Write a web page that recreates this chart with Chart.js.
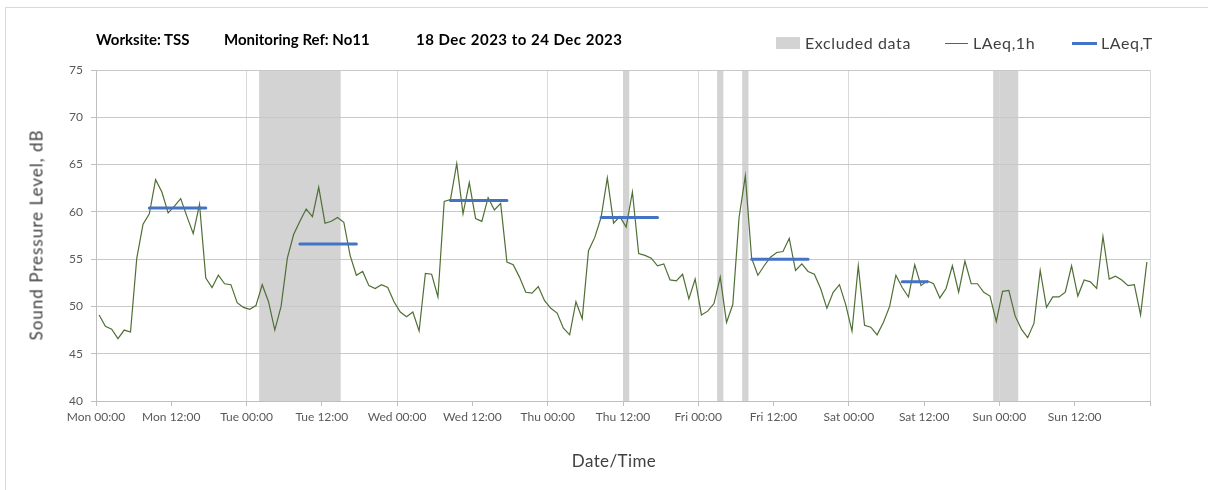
<!DOCTYPE html>
<html>
<head>
<meta charset="utf-8">
<script src="https://cdn.jsdelivr.net/npm/chart.js@4.4.1/dist/chart.umd.min.js"></script>
<style>
    html, body { margin: 0; padding: 0; background: #fff; overflow: hidden; }
    #wrap { position: relative; width: 1208px; height: 490px; }
    #frame { position: absolute; left: 5px; top: 7px; width: 1300px; height: 600px; border: 1px solid #d9d9d9; }
    .title { position: absolute; top: 30px; white-space: nowrap; font: bold 15px Lato, sans-serif; color: #000; }
    #legend { position: absolute; top: 33px; left: 0; font: 16px Lato, sans-serif; letter-spacing: 0.6px; color: #404040; }
    .item { position: absolute; top: 0; white-space: nowrap; line-height: 20px; }
    .swatch { position: absolute; }
    .axisTitle { position: absolute; white-space: nowrap; font: 17px Lato, sans-serif; color: #404040; }
    #yTitle { left: 36px; top: 235px; transform: translate(-50%, -50%) rotate(-90deg); letter-spacing: 1px; }
    #xTitle { left: 614px; top: 460px; transform: translate(-50%, -50%); letter-spacing: 0.4px; }
    canvas { position: absolute; left: 0; top: 0; }
</style>
</head>
<body>
<div id="wrap">
    <div id="frame"></div>
    <canvas id="noiseChart" width="1208" height="490"></canvas>
    <div class="title" style="left:96px">Worksite: TSS</div>
    <div class="title" style="left:224px">Monitoring Ref: No11</div>
    <div class="title" style="left:416px; letter-spacing:0.5px">18 Dec 2023 to 24 Dec 2023</div>
    <div id="legend">
        <div class="swatch" style="left:776px; top:4px; width:24px; height:12px; background:#d3d3d3"></div>
        <div class="item" style="left:805px">Excluded data</div>
        <div class="swatch" style="left:945px; top:10px; width:23px; height:1px; background:#4f6f35"></div>
        <div class="item" style="left:973px">LAeq,1h</div>
        <div class="swatch" style="left:1072px; top:9px; width:25px; height:3px; background:#4472c4"></div>
        <div class="item" style="left:1101px">LAeq,T</div>
    </div>
    <div class="axisTitle" id="yTitle">Sound Pressure Level, dB</div>
    <div class="axisTitle" id="xTitle">Date/Time</div>
</div>
<script>
// hourly LAeq,1h, Mon 00:00 .. Sun 23:00
const laeq1h = [
    49.1, 47.9, 47.6, 46.6, 47.5, 47.3, 55.1, 58.7, 59.8, 63.4, 62.1, 59.9,
    60.6, 61.4, 59.5, 57.7, 60.8, 53.0, 52.0, 53.3, 52.4, 52.3, 50.4, 49.9,
    49.7, 50.1, 52.3, 50.5, 47.5, 50.0, 55.1, 57.6, 59.0, 60.3, 59.5, 62.6,
    58.8, 59.0, 59.4, 58.9, 55.4, 53.3, 53.7, 52.2, 51.9, 52.3, 52.0, 50.5,
    49.4, 48.9, 49.4, 47.4, 53.5, 53.4, 51.0, 61.1, 61.3, 65.1, 59.8, 63.1,
    59.3, 59.0, 61.5, 60.2, 60.9, 54.7, 54.4, 53.1, 51.5, 51.4, 52.1, 50.6,
    49.8, 49.3, 47.7, 47.0, 50.5, 48.7, 55.9, 57.3, 59.4, 63.6, 58.8, 59.5,
    58.4, 62.1, 55.6, 55.4, 55.1, 54.3, 54.5, 52.8, 52.7, 53.4, 50.8, 52.9,
    49.1, 49.5, 50.3, 53.1, 48.3, 50.2, 59.4, 63.8, 55.1, 53.3, 54.3, 55.2,
    55.7, 55.8, 57.2, 53.8, 54.5, 53.7, 53.4, 51.9, 49.8, 51.5, 52.3, 50.2,
    47.4, 54.3, 48.0, 47.8, 47.0, 48.3, 50.0, 53.3, 52.0, 51.0, 54.4, 52.2,
    52.7, 52.4, 50.9, 51.9, 54.3, 51.5, 54.8, 52.4, 52.4, 51.5, 51.1, 48.4,
    51.6, 51.7, 49.0, 47.6, 46.7, 48.2, 53.8, 49.9, 51.0, 51.0, 51.5, 54.3,
    51.1, 52.8, 52.6, 51.9, 57.4, 52.9, 53.2, 52.8, 52.2, 52.3, 49.1, 54.7
];

// LAeq,T daytime periods (hours from Mon 00:00)
const periodStart = [8.5, 32.5, 56.5, 80.5, 104.5, 128.5];
const periodEnd = [17.5, 41.5, 65.5, 89.5, 113.5, 132.5];
const laeqT = [60.4, 56.6, 61.2, 59.4, 55.0, 52.6];

// excluded data windows (hours from Mon 00:00)
const excludedFrom = [26, 84, 99, 103, 143];
const excludedTo = [39, 85, 100, 104, 147];

const dayNames = ['Mon', 'Tue', 'Wed', 'Thu', 'Fri', 'Sat', 'Sun'];

const hourlyPoints = laeq1h.map((v, i) => ({ x: i + 0.5, y: v }));

const periodPoints = [];
for (let i = 0; i < laeqT.length; i++) {
    periodPoints.push({ x: periodStart[i], y: laeqT[i] });
    periodPoints.push({ x: periodEnd[i], y: laeqT[i] });
    periodPoints.push({ x: periodEnd[i], y: null });
}

const excludedShading = {
    id: 'excludedShading',
    beforeDraw(chart) {
        const { ctx, chartArea, scales } = chart;
        ctx.save();
        ctx.fillStyle = '#d3d3d3';
        for (let i = 0; i < excludedFrom.length; i++) {
            const x1 = scales.x.getPixelForValue(excludedFrom[i]);
            const x2 = scales.x.getPixelForValue(excludedTo[i]);
            ctx.fillRect(x1, chartArea.top, x2 - x1, chartArea.bottom - chartArea.top);
        }
        ctx.restore();
    }
};

const ctx = document.getElementById('noiseChart').getContext('2d');

new Chart(ctx, {
    type: 'line',
    data: {
        datasets: [
            {
                label: 'LAeq,T',
                data: periodPoints,
                borderColor: '#4472c4',
                borderWidth: 3,
                borderCapStyle: 'round',
                pointRadius: 0,
                spanGaps: false,
            },
            {
                label: 'LAeq,1h',
                data: hourlyPoints,
                borderColor: '#4f6f35',
                borderWidth: 1.2,
                pointRadius: 0,
                tension: 0,
            },
        ],
    },
    options: {
        responsive: false,
        animation: false,
        layout: { padding: { left: 14, right: 58, top: 70, bottom: 9 } },
        plugins: {
            legend: { display: false },
            tooltip: { enabled: false },
        },
        scales: {
            x: {
                type: 'linear',
                min: 0,
                max: 168,
                afterFit(scale) { scale.height = 80; },
                ticks: {
                    stepSize: 12,
                    autoSkip: false,
                    maxRotation: 0,
                    padding: 4,
                    color: '#595959',
                    font: { family: 'Lato', size: 12 },
                    callback(value) {
                        if (value >= 168 || value % 12 !== 0) return '';
                        const day = dayNames[Math.floor(value / 24)];
                        return day + (value % 24 === 0 ? ' 00:00' : ' 12:00');
                    },
                },
                grid: {
                    color: (c) => (c.tick && c.tick.value % 24 === 0 ? '#d9d9d9' : 'rgba(0,0,0,0)'),
                    tickColor: '#bfbfbf',
                    tickLength: 5,
                },
                border: { color: '#bfbfbf' },
            },
            y: {
                min: 40,
                max: 75,
                afterFit(scale) { scale.width = 82; },
                ticks: {
                    stepSize: 5,
                    padding: 8,
                    color: '#595959',
                    font: { family: 'Lato', size: 12 },
                },
                grid: {
                    color: '#c8c8c8',
                    tickColor: '#bfbfbf',
                    tickLength: 5,
                },
                border: { color: '#bfbfbf' },
            },
        },
    },
    plugins: [excludedShading],
});
</script>
</body>
</html>
